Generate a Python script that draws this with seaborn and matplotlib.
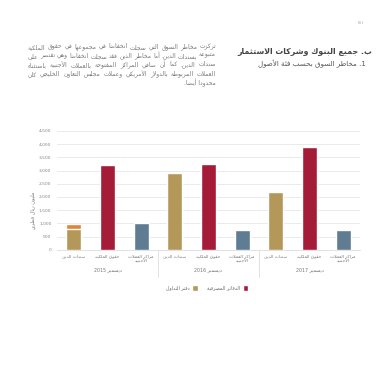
import re
import unicodedata
import matplotlib
matplotlib.use("Agg")
import matplotlib.pyplot as plt
from matplotlib.patches import Patch
import seaborn as sns
import pandas as pd

# ---------------- data ----------------
years = ["ديسمبر 2015", "ديسمبر 2016", "ديسمبر 2017"]
categories = ["سندات الدين", "حقوق الملكية", "مراكز العملات\nالأجنبية"]
debt_values = [780, 2900, 2200]
equity_values = [3200, 3240, 3900]
fx_values = [1000, 730, 730]
debt_extra = [180, 0, 0]          # orange top segment (2015 debt)
y_ticks = [0, 500, 1000, 1500, 2000, 2500, 3000, 3500, 4000, 4500]
legend_labels = ["دفتر التداول", "الدفاتر المصرفية"]
y_label = "مليون ريال قطري"
title = "ب. جميع البنوك وشركات الاستثمار"
subtitle = "1. مخاطر السوق بحسب فئة الأصول"
page_no = "١٨١"
paragraph = [
    "تركزت مخاطر السوق التي سجلت انخفاضا في مجموعها في حقوق الملكية",
    "متبوعة بسندات الدين. أما مخاطر الدين فقد سجلت انخفاضا وهي تقتصر على",
    "سندات الدين. كما أن صافي المراكز المفتوحة بالعملات الأجنبية باستثناء",
    "العملات المربوطة بالدولار الأمريكي وعملات مجلس التعاون الخليجي كان",
    "محدودا أيضا.",
]

# ---------------- Arabic shaping (presentation forms + visual order) ----------------
_forms_cache = {}


def _forms(c):
    if c in _forms_cache:
        return _forms_cache[c]
    res = None
    if "\u0621" <= c <= "\u064A":
        try:
            name = unicodedata.name(c)
            f = {}
            for k in ("ISOLATED", "FINAL", "INITIAL", "MEDIAL"):
                try:
                    f[k] = unicodedata.lookup(name + " " + k + " FORM")
                except KeyError:
                    pass
            if f:
                res = f
        except ValueError:
            res = None
    _forms_cache[c] = res
    return res


LAM_ALEF = {
    "\u0627": ("\uFEFB", "\uFEFC"),
    "\u0623": ("\uFEF7", "\uFEF8"),
    "\u0625": ("\uFEF9", "\uFEFA"),
    "\u0622": ("\uFEF5", "\uFEF6"),
}


def _dual(c):
    f = _forms(c)
    return bool(f) and "INITIAL" in f


def _joins(c):
    f = _forms(c)
    return bool(f) and "FINAL" in f


def reshape(text):
    out = []
    n = len(text)
    i = 0
    while i < n:
        c = text[i]
        f = _forms(c)
        if not f:
            out.append(c)
            i += 1
            continue
        prev = text[i - 1] if i > 0 else ""
        cp = bool(prev) and _dual(prev)
        if c == "\u0644" and i + 1 < n and text[i + 1] in LAM_ALEF:
            iso, fin = LAM_ALEF[text[i + 1]]
            out.append(fin if cp else iso)
            i += 2
            continue
        nxt = text[i + 1] if i + 1 < n else ""
        cn = _dual(c) and bool(nxt) and _joins(nxt)
        if cp and cn:
            out.append(f.get("MEDIAL", c))
        elif cp:
            out.append(f.get("FINAL", c))
        elif cn:
            out.append(f.get("INITIAL", c))
        else:
            out.append(f.get("ISOLATED", c))
        i += 1
    return "".join(out)


MIRROR = {"(": ")", ")": "(", "[": "]", "]": "["}
LTR_RUN = re.compile(r"[0-9A-Za-z\u0660-\u0669]+(?:[.,][0-9\u0660-\u0669]+)*")


def visual_line(line):
    s = reshape(line)
    pieces = []
    pos = 0
    for m in LTR_RUN.finditer(s):
        if m.start() > pos:
            pieces.append(("r", s[pos:m.start()]))
        pieces.append(("l", m.group()))
        pos = m.end()
    if pos < len(s):
        pieces.append(("r", s[pos:]))
    res = []
    for kind, p in reversed(pieces):
        if kind == "l":
            res.append(p)
        else:
            res.append("".join(MIRROR.get(ch, ch) for ch in reversed(p)))
    return "".join(res)


def ar(text):
    return "\n".join(visual_line(l) for l in text.split("\n"))


# ---------------- figure ----------------
sns.set_theme(style="white")
plt.rcParams["font.family"] = ["DejaVu Sans"]

W = H = 380
fig = plt.figure(figsize=(3.8, 3.8), dpi=100)
fig.patch.set_facecolor("white")


def px(x, y):
    return x / W, 1 - y / H


ax = fig.add_axes([57 / W, 1 - 249.7 / H, (360 - 57) / W, (249.7 - 131) / H])

col_debt = "#B3985A"
col_eq = "#A51C38"
col_fx = "#5F7C93"
col_extra = "#E2853A"

rows = []
for yi, yr in enumerate(years):
    for ci, cat in enumerate(categories):
        vals = [debt_values, equity_values, fx_values][ci]
        rows.append({"slot": f"{yi}-{ci}", "kind": ["debt", "equity", "fx"][ci],
                     "value": vals[yi],
                     "total": vals[yi] + (debt_extra[yi] if ci == 0 else 0)})
df = pd.DataFrame(rows)
order = list(df["slot"])

pal = {"debt": col_debt, "equity": col_eq, "fx": col_fx}
# stacked top segment drawn as the full-height bar underneath
sns.barplot(data=df, x="slot", y="total", order=order, color=col_extra,
            width=0.45, ax=ax, errorbar=None, legend=False, saturation=1)
sns.barplot(data=df, x="slot", y="value", order=order, hue="kind", palette=pal,
            dodge=False, width=0.45, ax=ax, errorbar=None, legend=False,
            saturation=1)

ax.set_xlim(-0.5, 8.5)
ax.set_ylim(0, 4500)
ax.set_yticks(y_ticks)
ax.set_yticklabels([f"{v:,}" for v in y_ticks], fontsize=3.2, color="#888888")
ax.set_xticks(range(9))
ax.set_xticklabels([ar(categories[i % 3]) for i in range(9)], fontsize=3.2,
                   color="#777777", linespacing=1.3, va="top")
ax.tick_params(axis="both", length=0, pad=4)
ax.tick_params(axis="x", pad=3)
ax.set_xlabel("")
ax.set_ylabel("")
ax.grid(axis="y", color="#E6E6E6", linewidth=0.6)
ax.set_axisbelow(True)
for s in ["top", "right", "left"]:
    ax.spines[s].set_visible(False)
ax.spines["bottom"].set_color("#DDDDDD")
ax.spines["bottom"].set_linewidth(0.6)

# group separators and labels
for xsep in (2.5, 5.5):
    ax.plot([xsep, xsep], [0, -0.23], transform=ax.get_xaxis_transform(),
            color="#DDDDDD", linewidth=0.6, clip_on=False)
for yi, yr in enumerate(years):
    ax.text(yi * 3 + 1, -0.165, ar(yr), transform=ax.get_xaxis_transform(),
            ha="center", va="center", fontsize=3.4, color="#777777")

# y label
fig.text(*px(33, 210), ar(y_label), rotation=90, ha="center", va="center",
         fontsize=3.6, color="#777777")

# legend (marker to the right of text, RTL style)
handles = [Patch(facecolor=col_debt), Patch(facecolor=col_eq)]
fig.legend(handles, [ar(t) for t in legend_labels], loc="center",
           bbox_to_anchor=px(207, 288), ncol=2, frameon=False, fontsize=3.4,
           markerfirst=False, handlelength=1.2, handleheight=1.4,
           columnspacing=2.0, handletextpad=0.5, labelcolor="#666666")

# titles
fig.text(*px(364, 22), page_no, ha="right", va="center", fontsize=3.5, color="#AAAAAA")
fig.text(*px(372, 52), ar(title), ha="right", va="center", fontsize=5.7,
         fontweight="bold", color="#444444")
fig.text(*px(366, 63.5), ar(subtitle), ha="right", va="center", fontsize=5.1,
         color="#555555")

# paragraph: justified RTL lines between x=28 and x=216
renderer = fig.canvas.get_renderer()
left_px, right_px = 28, 216
PFS = 4.35
for i, line in enumerate(paragraph):
    y = 47 + i * 9
    words = line.split(" ")
    last = i == len(paragraph) - 1
    if last or len(words) < 2:
        fig.text(*px(right_px, y), ar(line), ha="right", va="center",
                 fontsize=PFS, color="#777777")
        continue
    texts = []
    widths = []
    for w in words:
        t = fig.text(0, 0, ar(w), ha="left", va="center", fontsize=PFS,
                     color="#777777")
        bb = t.get_window_extent(renderer=renderer)
        texts.append(t)
        widths.append(bb.width)
    gap = max(1.2, (right_px - left_px - sum(widths)) / (len(words) - 1))
    xr = right_px
    for t, wdt in zip(texts, widths):
        t.set_position(px(xr - wdt, y))
        xr -= wdt + gap

fig.savefig("out.png", dpi=100, facecolor="white")
